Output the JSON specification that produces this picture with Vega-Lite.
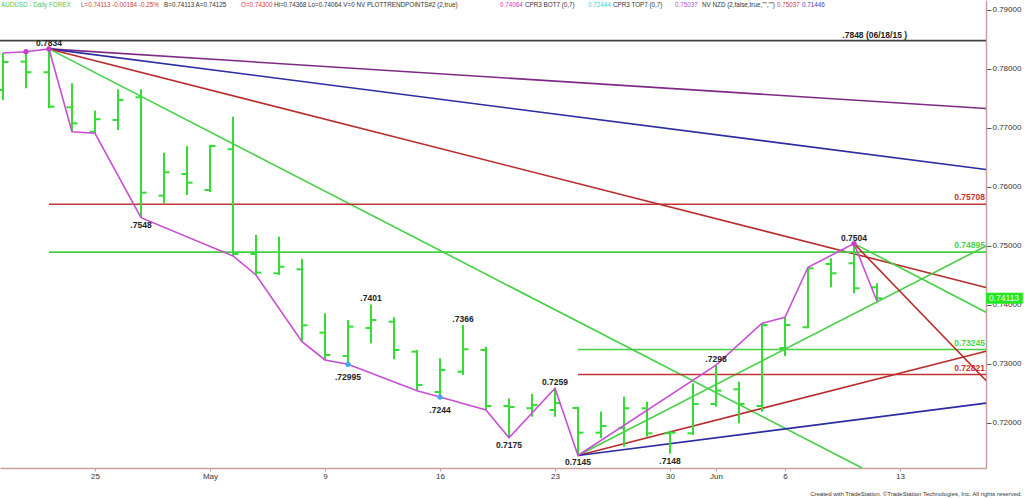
{
  "$schema": "https://vega.github.io/schema/vega-lite/v6.json",
  "width": 986,
  "height": 468,
  "autosize": {"type": "none"},
  "padding": {"left": 0, "top": 0, "right": 38, "bottom": 30},
  "background": "white",
  "config": {"view": {"stroke": null}, "font": "Liberation Sans"},
  "title": {"text": "Created with TradeStation. ©TradeStation Technologies, Inc. All rights reserved.", "orient": "bottom", "anchor": "end", "frame": "group", "dx": 36, "fontSize": 6, "fontWeight": "normal", "color": "#333333", "offset": 11},
  "resolve": {"scale": {"color": "independent"}},
  "datasets": {
    "bars": [
      {"i": 1, "o": 0.77644, "h": 0.78271, "l": 0.77475, "c": 0.78119},
      {"i": 2, "o": 0.78124, "h": 0.78293, "l": 0.77673, "c": 0.77944},
      {"i": 3, "o": 0.77944, "h": 0.7834, "l": 0.77334, "c": 0.77361},
      {"i": 4, "o": 0.77351, "h": 0.77758, "l": 0.76937, "c": 0.7708},
      {"i": 5, "o": 0.76937, "h": 0.77293, "l": 0.7691, "c": 0.77148},
      {"i": 6, "o": 0.77136, "h": 0.77656, "l": 0.76966, "c": 0.77475},
      {"i": 7, "o": 0.7752, "h": 0.77656, "l": 0.7548, "c": 0.75903},
      {"i": 8, "o": 0.75853, "h": 0.76581, "l": 0.75724, "c": 0.76249},
      {"i": 9, "o": 0.7622, "h": 0.76695, "l": 0.75864, "c": 0.76073},
      {"i": 10, "o": 0.75949, "h": 0.7671, "l": 0.75915, "c": 0.76695},
      {"i": 11, "o": 0.76639, "h": 0.77192, "l": 0.74831, "c": 0.74864},
      {"i": 12, "o": 0.74864, "h": 0.75186, "l": 0.74509, "c": 0.74548},
      {"i": 13, "o": 0.74537, "h": 0.75158, "l": 0.74509, "c": 0.74649},
      {"i": 14, "o": 0.74605, "h": 0.7478, "l": 0.73378, "c": 0.73656},
      {"i": 15, "o": 0.73531, "h": 0.73859, "l": 0.73068, "c": 0.73153},
      {"i": 16, "o": 0.73136, "h": 0.73746, "l": 0.72995, "c": 0.73632},
      {"i": 17, "o": 0.7361, "h": 0.7401, "l": 0.73351, "c": 0.73746},
      {"i": 18, "o": 0.73717, "h": 0.73792, "l": 0.7308, "c": 0.73237},
      {"i": 19, "o": 0.73209, "h": 0.73237, "l": 0.72548, "c": 0.72644},
      {"i": 20, "o": 0.72525, "h": 0.73097, "l": 0.7244, "c": 0.72898},
      {"i": 21, "o": 0.7287, "h": 0.7366, "l": 0.72814, "c": 0.73249},
      {"i": 22, "o": 0.73237, "h": 0.73293, "l": 0.7222, "c": 0.72288},
      {"i": 23, "o": 0.72288, "h": 0.72419, "l": 0.7175, "c": 0.72271},
      {"i": 24, "o": 0.7225, "h": 0.72492, "l": 0.72107, "c": 0.72305},
      {"i": 25, "o": 0.7222, "h": 0.7259, "l": 0.72107, "c": 0.72339},
      {"i": 26, "o": 0.72254, "h": 0.72276, "l": 0.7145, "c": 0.71836},
      {"i": 27, "o": 0.71836, "h": 0.72192, "l": 0.71741, "c": 0.71949},
      {"i": 28, "o": 0.71915, "h": 0.72446, "l": 0.71598, "c": 0.72249},
      {"i": 29, "o": 0.72249, "h": 0.72361, "l": 0.71768, "c": 0.71825},
      {"i": 30, "o": 0.71825, "h": 0.7187, "l": 0.7148, "c": 0.71836},
      {"i": 31, "o": 0.71825, "h": 0.72673, "l": 0.71797, "c": 0.72322},
      {"i": 32, "o": 0.72322, "h": 0.7298, "l": 0.72276, "c": 0.72548},
      {"i": 33, "o": 0.72571, "h": 0.727, "l": 0.71995, "c": 0.72322},
      {"i": 34, "o": 0.72288, "h": 0.7369, "l": 0.72192, "c": 0.73661},
      {"i": 35, "o": 0.73271, "h": 0.73792, "l": 0.73136, "c": 0.73661},
      {"i": 36, "o": 0.73622, "h": 0.74639, "l": 0.73605, "c": 0.74622},
      {"i": 37, "o": 0.74695, "h": 0.74792, "l": 0.743, "c": 0.74537},
      {"i": 38, "o": 0.74707, "h": 0.7504, "l": 0.74198, "c": 0.74283},
      {"i": 39, "o": 0.743, "h": 0.74368, "l": 0.74064, "c": 0.74113}
    ],
    "zig": [
      {"i": 1, "p": 0.78271}, {"i": 2, "p": 0.78293}, {"i": 3, "p": 0.7834}, {"i": 4, "p": 0.76937},
      {"i": 5, "p": 0.7691}, {"i": 7, "p": 0.7548}, {"i": 11, "p": 0.74831}, {"i": 12, "p": 0.74509},
      {"i": 14, "p": 0.73378}, {"i": 15, "p": 0.73068}, {"i": 16, "p": 0.72995}, {"i": 19, "p": 0.72548},
      {"i": 20, "p": 0.7244}, {"i": 22, "p": 0.7222}, {"i": 23, "p": 0.7175}, {"i": 25, "p": 0.7259},
      {"i": 26, "p": 0.7145}, {"i": 32, "p": 0.7298}, {"i": 34, "p": 0.7369}, {"i": 35, "p": 0.73792},
      {"i": 36, "p": 0.74639}, {"i": 38, "p": 0.7504}, {"i": 39, "p": 0.74064}
    ],
    "dots": [
      {"i": 2, "p": 0.78293, "kind": "swing high"},
      {"i": 3, "p": 0.7834, "kind": "swing high"},
      {"i": 38, "p": 0.7504, "kind": "swing high"},
      {"i": 16, "p": 0.72995, "kind": "pivot low"},
      {"i": 20, "p": 0.7244, "kind": "pivot low"}
    ],
    "segs": [
      {"i": 0.8696, "p": 0.7848, "i2": 43.7391, "p2": 0.7848, "s": "prior high"},
      {"i": 3, "p": 0.7834, "i2": 43.7391, "p2": 0.77331, "s": "top fan 1"},
      {"i": 3, "p": 0.7834, "i2": 43.7391, "p2": 0.76297, "s": "top fan 2"},
      {"i": 3, "p": 0.7834, "i2": 43.7391, "p2": 0.74297, "s": "top fan 3"},
      {"i": 3, "p": 0.7834, "i2": 38.35, "p2": 0.71237, "s": "top fan 4"},
      {"i": 3, "p": 0.75708, "i2": 43.7391, "p2": 0.75708, "s": "retr 61.8 down"},
      {"i": 3, "p": 0.74895, "i2": 43.7391, "p2": 0.74895, "s": "retr 50 down"},
      {"i": 26, "p": 0.7145, "i2": 43.7391, "p2": 0.75, "s": "low fan 1"},
      {"i": 26, "p": 0.7145, "i2": 43.7391, "p2": 0.73217, "s": "low fan 2"},
      {"i": 26, "p": 0.7145, "i2": 43.7391, "p2": 0.72336, "s": "low fan 3"},
      {"i": 26, "p": 0.73245, "i2": 43.7391, "p2": 0.73245, "s": "retr 50 up"},
      {"i": 26, "p": 0.72821, "i2": 43.7391, "p2": 0.72821, "s": "retr 61.8 up"},
      {"i": 38, "p": 0.7504, "i2": 43.7391, "p2": 0.73878, "s": "high fan 1"},
      {"i": 38, "p": 0.7504, "i2": 43.7391, "p2": 0.7272, "s": "high fan 2"}
    ],
    "labels": [
      {"text": "0.7834", "i": 3, "p": 0.7834, "pos": "above"},
      {"text": ".7401", "i": 17, "p": 0.7401, "pos": "above"},
      {"text": ".7366", "i": 21, "p": 0.7366, "pos": "above"},
      {"text": "0.7259", "i": 25, "p": 0.7259, "pos": "above"},
      {"text": ".7298", "i": 32, "p": 0.7298, "pos": "above"},
      {"text": "0.7504", "i": 38, "p": 0.7504, "pos": "above"},
      {"text": ".7848 (06/18/15 )", "i": 38.9, "p": 0.7848, "pos": "above"},
      {"text": ".7548", "i": 7, "p": 0.7548, "pos": "below"},
      {"text": "0.7175", "i": 23, "p": 0.7175, "pos": "below"},
      {"text": "0.7145", "i": 26, "p": 0.7145, "pos": "below"},
      {"text": ".7148", "i": 30, "p": 0.7148, "pos": "below"},
      {"text": ".72995", "i": 16, "p": 0.72995, "pos": "far below"},
      {"text": ".7244", "i": 20, "p": 0.7244, "pos": "far below"}
    ],
    "levels": [
      {"text": "0.75708", "p": 0.75708, "kind": "61.8%"},
      {"text": "0.74895", "p": 0.74895, "kind": "50%"},
      {"text": "0.73245", "p": 0.73245, "kind": "50%"},
      {"text": "0.72821", "p": 0.72821, "kind": "61.8%"}
    ],
    "header": [
      {"text": "AUDUSD - Daily  FOREX", "i": 0.913, "kind": "name"},
      {"text": "L=0.74113  -0.00184  -0.25%", "i": 4.391, "kind": "change"},
      {"text": "B=0.74113  A=0.74125", "i": 8.0, "kind": "info"},
      {"text": "O=0.74300", "i": 11.35, "kind": "change"},
      {"text": "Hi=0.74368  Lo=0.74064  V=0  NV  PLOTTRENDPOINTS#2 (2,true)", "i": 12.78, "kind": "info"},
      {"text": "0.74064", "i": 22.609, "kind": "trend"},
      {"text": "CPR3 BOT7 (0,7)", "i": 23.696, "kind": "info"},
      {"text": "0.72444", "i": 26.435, "kind": "cpr bot"},
      {"text": "CPR3 TOP7 (0,7)", "i": 27.522, "kind": "info"},
      {"text": "0.75037", "i": 30.217, "kind": "cpr top"},
      {"text": "NV NZD (2,false,true,\"\",\"\")", "i": 31.391, "kind": "info"},
      {"text": "0.75037", "i": 34.65, "kind": "nzd high"},
      {"text": "0.71446", "i": 35.74, "kind": "nzd low"}
    ],
    "last": [{"p": 0.74113, "text": "0.74113"}]
  },
  "layer": [
    {
      "data": {"name": "segs"},
      "mark": {"type": "rule", "strokeWidth": 1.6},
      "encoding": {
        "x": {"field": "i", "type": "quantitative", "title": null, "scale": {"domain": [0.8696, 43.7391], "nice": false, "zero": false},
          "axis": {"values": [5, 10, 15, 20, 25, 30, 32, 35, 40], "labelExpr": "datum.value==5?'25':datum.value==10?'May':datum.value==15?'9':datum.value==20?'16':datum.value==25?'23':datum.value==30?'30':datum.value==32?'Jun':datum.value==35?'6':'13'", "labelFontSize": 8, "labelColor": "#333333", "labelFont": "Liberation Sans", "tickSize": 3, "tickColor": "#c8a0a0", "domainColor": "#c8a0a0", "domainWidth": 1.5, "grid": false, "labelPadding": 1, "labelFlush": false, "labelOverlap": false}},
        "y": {"field": "p", "type": "quantitative", "title": null, "scale": {"domain": [0.71237, 0.79169], "nice": false, "zero": false},
          "axis": {"orient": "right", "values": [0.72, 0.73, 0.74, 0.75, 0.76, 0.77, 0.78, 0.79], "format": ".5f", "labelFontSize": 8, "labelColor": "#333333", "labelFont": "Liberation Sans", "tickSize": 5, "tickColor": "#555555", "domainColor": "#c8a0a0", "domainWidth": 1.5, "grid": false, "labelPadding": 1, "labelFlush": false, "labelOverlap": false}},
        "x2": {"field": "i2"},
        "y2": {"field": "p2"},
        "color": {"field": "s", "type": "nominal", "legend": null,
          "scale": {"domain": ["prior high", "top fan 1", "top fan 2", "top fan 3", "top fan 4", "retr 61.8 down", "retr 50 down", "low fan 1", "low fan 2", "low fan 3", "retr 50 up", "retr 61.8 up", "high fan 1", "high fan 2"],
                    "range": ["#444444", "#7e2a85", "#2b2ba3", "#b82c2c", "#45cf45", "#c23333", "#45cf45", "#45cf45", "#b82c2c", "#2b2ba3", "#45cf45", "#c23333", "#45cf45", "#b82c2c"]}}
      }
    },
    {
      "data": {"name": "bars"},
      "mark": {"type": "rule", "strokeWidth": 2, "color": "#36dc36"},
      "encoding": {
        "x": {"field": "i", "type": "quantitative", "title": null, "scale": {"domain": [0.8696, 43.7391], "nice": false, "zero": false}},
        "y": {"field": "l", "type": "quantitative", "title": null, "scale": {"domain": [0.71237, 0.79169], "nice": false, "zero": false}},
        "y2": {"field": "h"}
      }
    },
    {
      "data": {"name": "bars"},
      "mark": {"type": "tick", "orient": "horizontal", "size": 5, "thickness": 2, "xOffset": -3, "color": "#36dc36", "opacity": 1},
      "encoding": {
        "x": {"field": "i", "type": "quantitative", "title": null, "scale": {"domain": [0.8696, 43.7391], "nice": false, "zero": false}},
        "y": {"field": "o", "type": "quantitative", "title": null, "scale": {"domain": [0.71237, 0.79169], "nice": false, "zero": false}}
      }
    },
    {
      "data": {"name": "bars"},
      "mark": {"type": "tick", "orient": "horizontal", "size": 5, "thickness": 2, "xOffset": 3, "color": "#36dc36", "opacity": 1},
      "encoding": {
        "x": {"field": "i", "type": "quantitative", "title": null, "scale": {"domain": [0.8696, 43.7391], "nice": false, "zero": false}},
        "y": {"field": "c", "type": "quantitative", "title": null, "scale": {"domain": [0.71237, 0.79169], "nice": false, "zero": false}}
      }
    },
    {
      "data": {"name": "zig"},
      "mark": {"type": "line", "strokeWidth": 1.6, "color": "#c64fd3"},
      "encoding": {
        "x": {"field": "i", "type": "quantitative", "title": null, "scale": {"domain": [0.8696, 43.7391], "nice": false, "zero": false}},
        "y": {"field": "p", "type": "quantitative", "title": null, "scale": {"domain": [0.71237, 0.79169], "nice": false, "zero": false}}
      }
    },
    {
      "data": {"name": "dots"},
      "mark": {"type": "point", "filled": true, "size": 28, "opacity": 1},
      "encoding": {
        "x": {"field": "i", "type": "quantitative", "title": null, "scale": {"domain": [0.8696, 43.7391], "nice": false, "zero": false}},
        "y": {"field": "p", "type": "quantitative", "title": null, "scale": {"domain": [0.71237, 0.79169], "nice": false, "zero": false}},
        "color": {"field": "kind", "type": "nominal", "legend": null, "scale": {"domain": ["swing high", "pivot low"], "range": ["#c640d0", "#3fa9f5"]}}
      }
    },
    {
      "data": {"name": "labels"},
      "transform": [{"filter": "datum.pos == 'above'"}],
      "mark": {"type": "text", "fontWeight": "bold", "fontSize": 8.5, "color": "#222222", "baseline": "middle", "dy": -6},
      "encoding": {
        "x": {"field": "i", "type": "quantitative", "title": null, "scale": {"domain": [0.8696, 43.7391], "nice": false, "zero": false}},
        "y": {"field": "p", "type": "quantitative", "title": null, "scale": {"domain": [0.71237, 0.79169], "nice": false, "zero": false}},
        "text": {"field": "text"}
      }
    },
    {
      "data": {"name": "labels"},
      "transform": [{"filter": "datum.pos == 'below'"}],
      "mark": {"type": "text", "fontWeight": "bold", "fontSize": 8.5, "color": "#222222", "baseline": "middle", "dy": 7},
      "encoding": {
        "x": {"field": "i", "type": "quantitative", "title": null, "scale": {"domain": [0.8696, 43.7391], "nice": false, "zero": false}},
        "y": {"field": "p", "type": "quantitative", "title": null, "scale": {"domain": [0.71237, 0.79169], "nice": false, "zero": false}},
        "text": {"field": "text"}
      }
    },
    {
      "data": {"name": "labels"},
      "transform": [{"filter": "datum.pos == 'far below'"}],
      "mark": {"type": "text", "fontWeight": "bold", "fontSize": 8.5, "color": "#222222", "baseline": "middle", "dy": 13},
      "encoding": {
        "x": {"field": "i", "type": "quantitative", "title": null, "scale": {"domain": [0.8696, 43.7391], "nice": false, "zero": false}},
        "y": {"field": "p", "type": "quantitative", "title": null, "scale": {"domain": [0.71237, 0.79169], "nice": false, "zero": false}},
        "text": {"field": "text"}
      }
    },
    {
      "data": {"name": "levels"},
      "mark": {"type": "text", "fontWeight": "bold", "fontSize": 8.5, "align": "right", "baseline": "middle", "dx": -1, "dy": -7},
      "encoding": {
        "x": {"datum": 43.7391, "type": "quantitative", "title": null, "scale": {"domain": [0.8696, 43.7391], "nice": false, "zero": false}},
        "y": {"field": "p", "type": "quantitative", "title": null, "scale": {"domain": [0.71237, 0.79169], "nice": false, "zero": false}},
        "text": {"field": "text"},
        "color": {"field": "kind", "type": "nominal", "legend": null, "scale": {"domain": ["61.8%", "50%"], "range": ["#c83232", "#4ccf4c"]}}
      }
    },
    {
      "data": {"name": "header"},
      "mark": {"type": "text", "fontSize": 6.3, "align": "left", "baseline": "middle"},
      "encoding": {
        "x": {"field": "i", "type": "quantitative", "title": null, "scale": {"domain": [0.8696, 43.7391], "nice": false, "zero": false}},
        "y": {"datum": 0.79085, "type": "quantitative", "title": null, "scale": {"domain": [0.71237, 0.79169], "nice": false, "zero": false}},
        "text": {"field": "text"},
        "color": {"field": "kind", "type": "nominal", "legend": null, "scale": {"domain": ["name", "change", "info", "trend", "cpr bot", "cpr top", "nzd high", "nzd low"], "range": ["#55c455", "#d04040", "#333333", "#c040c0", "#40d0d0", "#c050d0", "#c84040", "#4040c8"]}}
      }
    },
    {
      "data": {"name": "last"},
      "mark": {"type": "rule", "strokeWidth": 11, "color": "#22e822", "strokeCap": "butt"},
      "encoding": {
        "x": {"datum": 43.7391, "type": "quantitative", "title": null, "scale": {"domain": [0.8696, 43.7391], "nice": false, "zero": false}},
        "x2": {"datum": 45.34},
        "y": {"field": "p", "type": "quantitative", "title": null, "scale": {"domain": [0.71237, 0.79169], "nice": false, "zero": false}}
      }
    },
    {
      "data": {"name": "last"},
      "mark": {"type": "text", "fontSize": 8.5, "align": "left", "baseline": "middle", "dx": 3, "color": "#eaffea"},
      "encoding": {
        "x": {"datum": 43.7391, "type": "quantitative", "title": null, "scale": {"domain": [0.8696, 43.7391], "nice": false, "zero": false}},
        "y": {"field": "p", "type": "quantitative", "title": null, "scale": {"domain": [0.71237, 0.79169], "nice": false, "zero": false}},
        "text": {"field": "text"}
      }
    }
  ]
}
